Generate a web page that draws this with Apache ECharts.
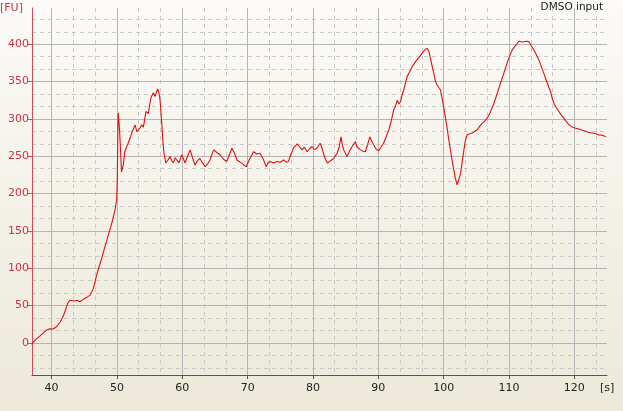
<!DOCTYPE html>
<html>
<head>
<meta charset="utf-8">
<script src="https://cdn.jsdelivr.net/npm/echarts@6/dist/echarts.min.js"></script>
<style>
html,body{margin:0;padding:0;}
#chart{width:623px;height:411px;}
</style>
</head>
<body>
<div id="chart"></div>
<script>
// Data
const timeS = [36.95,37.5,38.2,38.7,39.2,39.7,40.25,40.8,41.3,41.8,42.2,42.5,42.8,43.1,43.5,43.9,44.3,44.8,45.4,45.9,46.4,46.9,47.3,47.66,48.0,48.4,48.8,49.2,49.5,49.7,49.96,50.05,50.15,50.2,50.3,50.4,50.5,50.7,50.97,51.2,51.45,51.7,52.0,52.26,52.5,52.77,53.05,53.3,53.55,53.8,54.05,54.25,54.45,54.8,55.0,55.2,55.4,55.57,55.83,56.05,56.24,56.45,56.6,56.86,57.05,57.2,57.47,57.8,58.13,58.4,58.64,58.9,59.15,59.5,59.92,60.2,60.43,60.8,61.2,61.6,61.96,62.3,62.7,63.1,63.5,63.9,64.26,64.5,64.8,65.3,65.8,66.3,66.8,67.2,67.6,68.0,68.35,68.7,69.1,69.45,69.78,70.3,70.9,71.4,71.9,72.4,72.84,73.1,73.45,74.0,74.5,75.0,75.5,75.9,76.26,76.6,77.0,77.3,77.6,78.0,78.3,78.7,79.1,79.5,79.85,80.2,80.6,81.1,81.35,81.6,81.9,82.24,82.7,83.16,83.7,84.0,84.3,84.5,84.7,85.2,85.6,86.0,86.5,86.7,87.0,87.25,87.6,88.0,88.35,88.7,89.0,89.3,89.7,90.05,90.4,90.8,91.2,91.6,92.0,92.35,92.65,92.9,93.15,93.4,93.65,93.9,94.15,94.4,94.8,95.17,95.5,95.9,96.3,96.7,97.1,97.47,97.75,97.98,98.2,98.5,98.75,99.0,99.25,99.5,99.75,100.0,100.25,100.5,100.75,101.04,101.3,101.55,101.8,102.07,102.3,102.6,102.85,103.1,103.35,103.6,104.0,104.37,104.7,105.1,105.5,105.9,106.3,106.67,107.2,107.7,108.2,108.7,109.2,109.7,110.1,110.5,110.9,111.26,111.5,111.77,112.05,112.3,112.7,113.04,113.4,113.8,114.2,114.57,114.95,115.34,115.6,115.86,116.1,116.37,116.6,116.87,117.25,117.64,118.0,118.4,118.8,119.2,119.7,120.2,120.8,121.5,122.1,122.76,123.3,123.77,124.3,124.8];
const fuValues = [-2,4,9,13,17,19,18.7,22,28,36,46,54,57,57.6,56,57,55,58,61,64,73,91,103,113,124,136,148,160,170,178,192,218,290,308,306,285,267,229,238,256,262,267,274,281,286,292,283,285,288,292,289,300,310,307,318,328,332,335,330,336,340,334,325,294,268,254,241,245,249.5,244,241,248,245,241,252,246,241,250,258.5,247,238,244,247,241,236,240,245,252,258.5,255,252,246,243,252,260.7,254,245,243,240.7,238,236,246,256,253,254,246,236,241,243,241,243,242,245,242,243,252,260.7,263,266.5,262,258.5,262,256,260,263,259,260.7,267.4,262,254,246,240.7,244,247,254,262,276,265,258.5,249.5,257,263,269.6,263,261,258.5,257,256,265,276,270,265,259,257.5,262,267.4,276,285,298,312,318,325,320,323,332,339,348,356.6,363,370,374,379,383,388,392,394.7,390,381,372,361,350,345.5,342,339,328,316.5,303,289.7,274,258.5,244,231.7,220,211.6,214,227,243,258.5,272,278.6,280,281,283,285,290,294,297,301,310,321,334,348,361,374.6,384,392.4,397,401,404,405.8,403,401,404,403.5,398,392.4,386,379,370,361,354,348,342,336.6,328,321,315,309.8,305,301,296,292,289,287.5,286,284,282,281,280,278.6,278,276];

const xTickLabels = [40,50,60,70,80,90,100,110,120];
const xMinorTicks = [43.3333,46.6667,53.3333,56.6667,63.3333,66.6667,73.3333,76.6667,83.3333,86.6667,93.3333,96.6667,103.3333,106.6667,113.3333,116.6667,123.3333];
const yTickLabels = [0,50,100,150,200,250,300,350,400];
const yMinorTicks = [-33.3333,-16.6667,16.6667,33.3333,66.6667,83.3333,116.6667,133.3333,166.6667,183.3333,216.6667,233.3333,266.6667,283.3333,316.6667,333.3333,366.6667,383.3333,416.6667,433.3333];

const seriesData = timeS.map((t, i) => [t, fuValues[i]]);

const chart = echarts.init(document.getElementById('chart'), null, {renderer: 'canvas'});
const FONT = 'DejaVu Sans';
chart.setOption({
  animation: false,
  backgroundColor: {
    type: 'linear', x: 0, y: 0, x2: 0, y2: 1,
    colorStops: [{offset: 0, color: '#FBFAF7'}, {offset: 1, color: '#ECE9D9'}]
  },
  grid: {left: 32, right: 16, top: 8, bottom: 36, containLabel: false},
  xAxis: [
    {
      type: 'value', min: 37, max: 125, gridIndex: 0, position: 'bottom', z: 3,
      axisLine: {show: true, onZero: false, lineStyle: {color: '#555555', width: 1}},
      axisTick: {show: true, customValues: xTickLabels, length: 4, lineStyle: {color: '#555555'}},
      axisLabel: {customValues: xTickLabels, color: '#222222', fontFamily: FONT, fontSize: 11, margin: 8},
      splitLine: {show: true, lineStyle: {color: '#B4B4B4', width: 1}}
    },
    {
      type: 'value', min: 37, max: 125, gridIndex: 0, position: 'bottom', z: 1,
      axisLine: {show: false}, axisLabel: {show: false},
      axisTick: {show: false, customValues: xMinorTicks},
      splitLine: {show: true, lineStyle: {color: '#C9C9C9', width: 1, type: [4, 4]}}
    }
  ],
  yAxis: [
    {
      type: 'value', min: -43, max: 448.5, gridIndex: 0, position: 'left', z: 3,
      axisLine: {show: true, onZero: false, lineStyle: {color: '#C9505C', width: 1}},
      axisTick: {show: true, customValues: yTickLabels, length: 5, lineStyle: {color: '#C9505C'}},
      axisLabel: {customValues: yTickLabels, color: '#CC3344', fontFamily: FONT, fontSize: 11, margin: 3},
      splitLine: {show: true, lineStyle: {color: '#B4B4B4', width: 1}}
    },
    {
      type: 'value', min: -43, max: 448.5, gridIndex: 0, position: 'left', z: 1,
      axisLine: {show: false}, axisLabel: {show: false},
      axisTick: {show: false, customValues: yMinorTicks},
      splitLine: {show: true, lineStyle: {color: '#C9C9C9', width: 1, type: [4, 4]}}
    }
  ],
  series: [{
    type: 'line', xAxisIndex: 0, yAxisIndex: 0,
    data: seriesData, showSymbol: false, symbol: 'none',
    lineStyle: {color: '#DD1111', width: 1.1}, z: 5
  }],
  graphic: [
    {type: 'text', left: 0, top: 3, style: {text: '[FU]', fill: '#CC3344', font: '11px "DejaVu Sans"'}},
    {type: 'text', right: 20, top: 2, style: {text: 'DMSO input', fill: '#222222', font: '10.5px "DejaVu Sans"'}},
    {type: 'text', left: 600, top: 383, style: {text: '[s]', fill: '#222222', font: '11px "DejaVu Sans"'}}
  ]
});
</script>
</body>
</html>
